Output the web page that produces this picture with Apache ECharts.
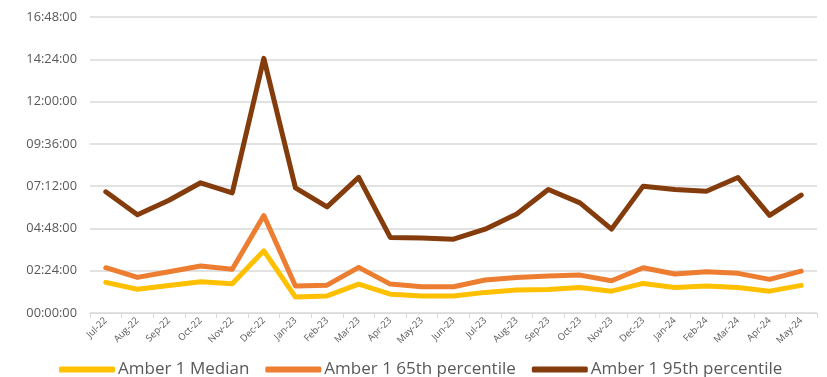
<!DOCTYPE html>
<html>
<head>
<meta charset="utf-8">
<script src="https://cdn.jsdelivr.net/npm/echarts@6/dist/echarts.min.js"></script>
<style>
  html, body { margin: 0; padding: 0; background: #fff; }
  #chart { width: 827px; height: 377px; }
</style>
</head>
<body>
<div id="chart"></div>
<script>
// Months shown on the category axis
const months = ['Jul-22','Aug-22','Sep-22','Oct-22','Nov-22','Dec-22','Jan-23','Feb-23','Mar-23','Apr-23','May-23','Jun-23','Jul-23','Aug-23','Sep-23','Oct-23','Nov-23','Dec-23','Jan-24','Feb-24','Mar-24','Apr-24','May-24'];

// Durations in hours
const median = [1.74,1.35,1.56,1.77,1.66,3.53,0.91,0.97,1.64,1.07,0.97,0.97,1.17,1.30,1.34,1.45,1.24,1.68,1.45,1.53,1.45,1.24,1.57];
const p65 = [2.57,2.02,2.34,2.67,2.48,5.53,1.53,1.58,2.59,1.64,1.49,1.49,1.87,2.02,2.10,2.15,1.83,2.57,2.21,2.34,2.25,1.91,2.38];
const p95 = [6.88,5.58,6.40,7.39,6.82,14.45,7.10,6.02,7.70,4.29,4.25,4.19,4.76,5.62,7.01,6.25,4.76,7.20,7.01,6.91,7.69,5.54,6.69];

const seriesNames = ['Amber 1 Median','Amber 1 65th percentile','Amber 1 95th percentile'];
const colors = ['#FFC000','#ED7D31','#843C0C'];

function hms(v) {
  const totalMin = Math.round(v * 60);
  const h = Math.floor(totalMin / 60), m = totalMin % 60;
  return String(h).padStart(2,'0') + ':' + String(m).padStart(2,'0') + ':00';
}

const chart = echarts.init(document.getElementById('chart'));
const font = '"Open Sans", "Liberation Sans", sans-serif';
chart.setOption({
  animation: false,
  textStyle: { fontFamily: font },
  grid: { left: 90, right: 10, top: 17, bottom: 64 },
  legend: {
    top: 356,
    left: 54,
    itemWidth: 56,
    itemHeight: 6,
    itemGap: 16,
    icon: 'roundRect',
    textStyle: { fontSize: 17, color: '#595959', fontFamily: font, padding: [0, 0, 0, -2] },
    data: seriesNames
  },
  xAxis: {
    type: 'category',
    data: months,
    boundaryGap: true,
    axisLine: { lineStyle: { color: '#d9d9d9', width: 1 } },
    axisTick: { show: true, alignWithLabel: false, length: 5, lineStyle: { color: '#d9d9d9' } },
    axisLabel: { rotate: 45, fontSize: 9.5, color: '#595959', interval: 0, margin: 6 }
  },
  yAxis: {
    type: 'value',
    min: 0, max: 16.8, interval: 2.4,
    axisLine: { show: false },
    axisTick: { show: false },
    splitLine: { lineStyle: { color: '#d9d9d9', width: 1.5 } },
    axisLabel: { formatter: hms, fontSize: 12.8, color: '#595959', margin: 13 }
  },
  series: [median, p65, p95].map((d, i) => ({
    name: seriesNames[i],
    type: 'line',
    data: d,
    symbol: 'none',
    lineStyle: { color: colors[i], width: 5, join: 'round', cap: 'round' },
    itemStyle: { color: colors[i] }
  }))
});
</script>
</body>
</html>
